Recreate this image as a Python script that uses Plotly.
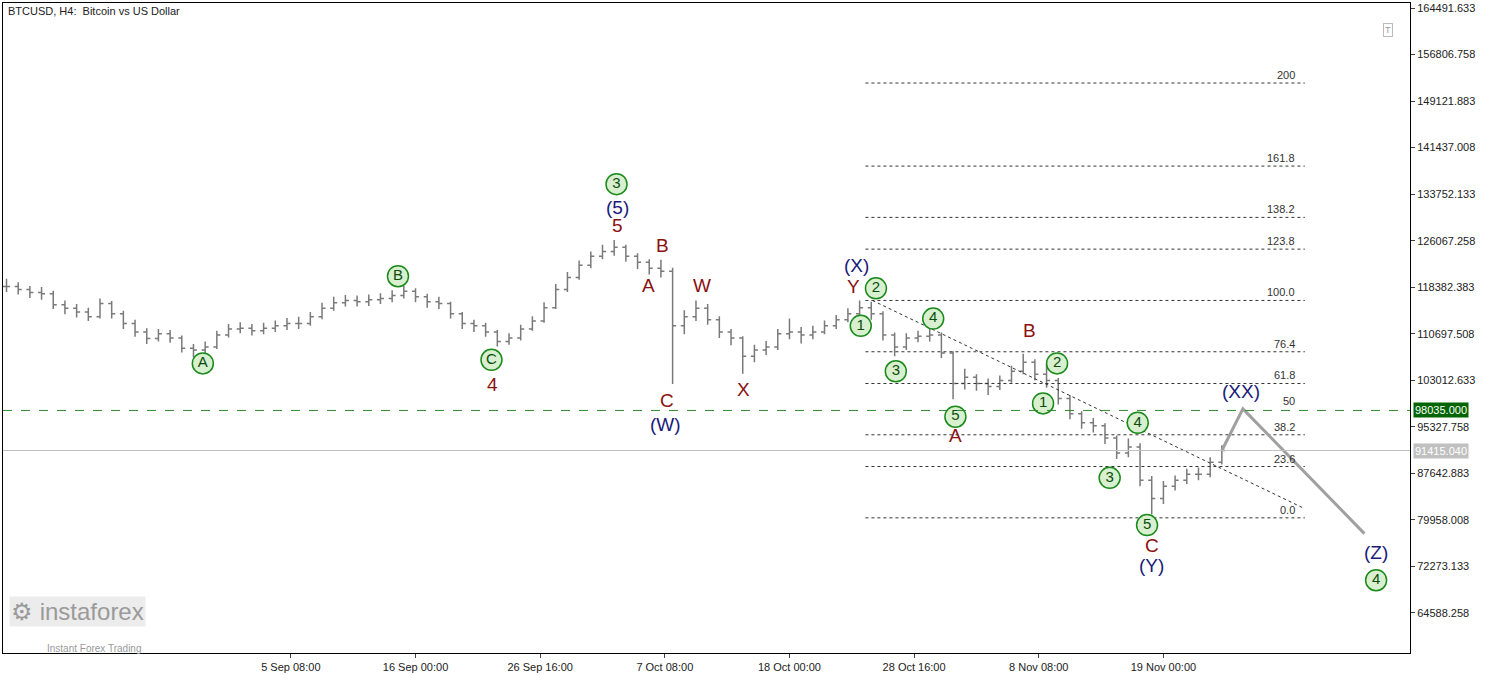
import plotly.graph_objects as go
import pandas as pd

start = pd.Timestamp("2025-08-12 00:00")
close_k = [118.5,118.0,117.5,117.3,115.5,114.9,114.3,113.5,115.7,114.0,112.4,111.0,109.9,110.7,110.0,108.3,108.0,108.5,110.5,111.5,
111.6,111.2,111.6,112.0,112.4,112.4,113.5,114.9,115.8,116.2,116.0,116.3,116.5,117.0,117.7,116.8,116.0,115.7,114.0,112.4,
112.0,111.0,109.4,110.0,111.5,112.8,115.0,118.0,120.0,122.0,123.5,124.3,125.0,123.5,122.5,121.5,121.0,112.0,113.5,114.9,
113.0,111.0,110.0,107.0,108.0,108.5,110.7,111.0,110.5,111.0,112.0,113.0,114.0,115.0,114.0,110.5,108.5,110.0,110.3,110.5,
107.5,102.5,103.5,102.5,102.0,103.0,104.5,106.0,104.0,103.0,100.0,97.5,96.0,95.5,93.5,91.0,92.0,86.5,83.5,85.5,
86.5,87.5,87.5,89.5,91.4]
high_k = [119.8,119.2,118.6,118.4,117.8,116.2,115.6,115.0,116.5,116.1,114.5,113.0,111.6,111.5,111.3,110.4,109.0,109.4,111.2,112.3,
112.6,112.3,112.5,112.9,113.3,113.5,114.3,115.8,116.8,117.1,117.0,117.2,117.4,117.9,118.6,118.2,117.3,116.8,116.0,114.3,
113.0,112.5,111.3,110.8,112.2,113.6,115.9,118.9,120.9,122.8,124.3,125.4,126.2,125.4,124.0,123.0,122.9,121.6,114.6,116.2,
115.6,113.6,111.5,110.3,108.9,109.5,111.5,113.2,111.8,112.0,112.9,113.8,114.9,116.2,116.0,114.4,110.9,110.8,111.2,111.6,
110.9,107.8,104.9,104.0,103.3,103.8,105.4,107.4,106.5,105.8,103.4,100.6,97.9,96.8,95.9,93.9,93.4,92.6,87.2,86.4,
87.3,88.4,88.6,90.3,92.3]
low_k = [117.6,117.2,116.6,116.3,114.8,113.9,113.4,112.8,113.2,113.2,111.5,110.2,109.0,109.4,109.2,107.6,106.8,107.2,108.2,110.1,
110.8,110.4,110.6,111.0,111.3,111.5,112.0,113.1,114.5,115.2,115.2,115.3,115.6,115.9,116.5,115.9,115.0,114.8,113.2,111.5,
111.0,110.2,108.6,108.9,109.6,111.2,112.5,114.8,117.6,119.6,121.5,123.0,123.6,122.6,121.4,120.5,120.0,102.4,110.6,112.8,
112.2,110.0,108.8,104.1,106.0,107.2,108.0,109.8,109.1,109.8,110.6,111.5,112.6,113.4,113.0,109.6,107.0,108.0,109.3,109.4,
106.7,99.9,101.5,101.3,100.6,101.4,102.6,104.0,103.0,101.8,99.0,96.6,95.0,94.4,92.5,90.0,90.3,85.5,80.9,82.6,
84.8,85.9,86.5,87.0,89.1]

tick_labels = ["5 Sep 08:00","16 Sep 00:00","26 Sep 16:00","7 Oct 08:00","18 Oct 00:00","28 Oct 16:00","8 Nov 08:00","19 Nov 00:00"]
tick_dates = ["2025-09-05 08:00","2025-09-16 00:00","2025-09-26 16:00","2025-10-07 08:00","2025-10-18 00:00","2025-10-28 16:00","2025-11-08 08:00","2025-11-19 00:00"]
y_ticks = [164491.633,156806.758,149121.883,141437.008,133752.133,126067.258,118382.383,110697.508,103012.633,95327.758,87642.883,79958.008,72273.133,64588.258]

fib_low, fib_high = 80300, 116200
fib_levels = [0.0,23.6,38.2,50,61.8,76.4,100.0,123.6,138.2,161.8,200]
fib_labels = ["0.0","23.6","38.2","50","61.8","76.4","100.0","123.8","138.2","161.8","200"]
resistance = 98035.0
last_price = 91415.040

green_lbl = [("A",16.8,105.8),("B",33.5,120.2),("C",41.5,106.4),("3",52.2,135.4),("1",73.1,112.0),("2",74.4,118.2),
             ("3",76.1,104.5),("4",79.3,113.2),("5",81.2,97.0),("1",88.7,99.2),("2",89.9,105.8),("4",96.8,96.0),
             ("3",94.4,86.9),("5",97.6,79.1),("4",117.2,70.0)]
red_lbl = [("4",41.6,102.3),("5",52.3,128.6),("A",54.9,118.7),("B",56.1,125.3),("C",56.5,99.7),("W",59.5,118.7),
           ("X",63.1,101.5),("Y",72.5,118.5),("B",87.5,111.2),("A",81.2,93.9),("C",98.0,75.8)]
navy_lbl = [("(5)",52.3,131.6),("(W)",56.4,95.7),("(X)",72.7,122.0),("(XX)",105.6,101.1),("(Y)",98.0,72.5),("(Z)",117.2,74.6)]

trend_days, trend_prices = [74.1, 111.1], [116200, 81800]
proj_days, proj_prices = [104.0, 105.8, 116.2], [91415, 98300, 77700]

def D(d): return start + pd.Timedelta(days=d)

dates = [D(i) for i in range(len(close_k))]
opens = [close_k[0]] + close_k[:-1]
fig = go.Figure()
fig.add_trace(go.Ohlc(x=dates, open=[v*1000 for v in opens], high=[v*1000 for v in high_k],
                      low=[v*1000 for v in low_k], close=[v*1000 for v in close_k],
                      increasing_line_color="#7a7a7a", decreasing_line_color="#7a7a7a", tickwidth=0.3, line_width=1.5,
                      showlegend=False, hoverinfo="skip"))
rng = fib_high - fib_low
x0, x1 = D(73.5), D(111.1)
for lv, lb in zip(fib_levels, fib_labels):
    p = fib_low + rng*lv/100
    if lv != 50:
        fig.add_trace(go.Scatter(x=[x0, x1], y=[p, p], mode="lines", line=dict(color="#333", width=1, dash="dot"),
                                 showlegend=False, hoverinfo="skip"))
    fig.add_annotation(x=x1, y=p, text=lb, showarrow=False, xanchor="right", yanchor="bottom", xshift=-8,
                       font=dict(size=11, color="#333"))
fig.add_trace(go.Scatter(x=[D(d) for d in trend_days], y=trend_prices, mode="lines",
                         line=dict(color="#333", width=1, dash="dot"), showlegend=False))
fig.add_trace(go.Scatter(x=[D(d) for d in proj_days], y=proj_prices, mode="lines",
                         line=dict(color="#a0a0a0", width=3), showlegend=False))
fig.add_hline(y=resistance, line=dict(color="#2e8b2e", width=1, dash="dash"))
fig.add_hline(y=last_price, line=dict(color="#c0c0c0", width=1))

fig.add_trace(go.Scatter(x=[D(d) for _, d, _ in green_lbl], y=[p*1000 for *_, p in green_lbl], mode="markers+text",
                         text=[t for t, *_ in green_lbl], textfont=dict(size=15, color="#0a4d0a", family="Arial"),
                         marker=dict(size=21, color="#d8f0d0", line=dict(color="#1a8a1a", width=1.5)),
                         textposition="middle center", showlegend=False))
for t, d, p in red_lbl:
    fig.add_annotation(x=D(d), y=p*1000, text=t, showarrow=False, font=dict(size=19, color="#8b1010", family="Arial"))
for t, d, p in navy_lbl:
    fig.add_annotation(x=D(d), y=p*1000, text=t, showarrow=False, font=dict(size=19, color="#1a1a7a", family="Arial"))

fig.add_annotation(xref="paper", yref="y", x=1, y=resistance, text=f"{resistance:.3f}", showarrow=False, xanchor="left",
                   xshift=3, bgcolor="#006400", font=dict(size=11, color="white"))
fig.add_annotation(xref="paper", yref="y", x=1, y=last_price, text=f"{last_price:.3f}", showarrow=False, xanchor="left",
                   xshift=3, bgcolor="#c0c0c0", font=dict(size=11, color="white"))
fig.add_annotation(xref="paper", yref="paper", x=0.002, y=1.0, text="BTCUSD, H4:  Bitcoin vs US Dollar", showarrow=False,
                   xanchor="left", yanchor="top", font=dict(size=11, color="#222"))
fig.add_annotation(xref="paper", yref="paper", x=0.988, y=0.97, text="T", showarrow=False, bordercolor="#bbb",
                   font=dict(size=9, color="#999"), borderpad=1)
fig.add_annotation(xref="paper", yref="paper", x=0.004, y=0.04, text="⚙ instaforex", showarrow=False, xanchor="left",
                   font=dict(size=24, color="#9a9a9a", family="Arial"), bgcolor="rgba(200,200,200,0.35)")
fig.add_annotation(xref="paper", yref="paper", x=0.03, y=-0.005, text="Instant Forex Trading", showarrow=False, xanchor="left",
                   font=dict(size=10, color="#9a9a9a"))

fig.update_layout(width=1500, height=675, margin=dict(l=3, r=90, t=2, b=20), plot_bgcolor="white", paper_bgcolor="white",
                  font=dict(family="Arial", size=11, color="#222"))
fig.update_xaxes(range=[D(-0.3), D(120.1)], tickvals=[pd.Timestamp(t) for t in tick_dates], ticktext=tick_labels,
                 showgrid=False, rangeslider_visible=False, showline=True, linecolor="black", mirror=True,
                 ticks="outside", ticklen=4, tickfont=dict(size=11))
fig.update_yaxes(range=[57980, 165318], side="right", tickvals=y_ticks, ticktext=[f"{v:.3f}" for v in y_ticks],
                 showgrid=False, showline=True, linecolor="black", mirror=True, ticks="outside", ticklen=4,
                 tickfont=dict(size=11))
fig.write_html("out.html", config={"displayModeBar": False},
               post_script="document.body.style.margin='0';document.body.style.overflow='hidden';")
